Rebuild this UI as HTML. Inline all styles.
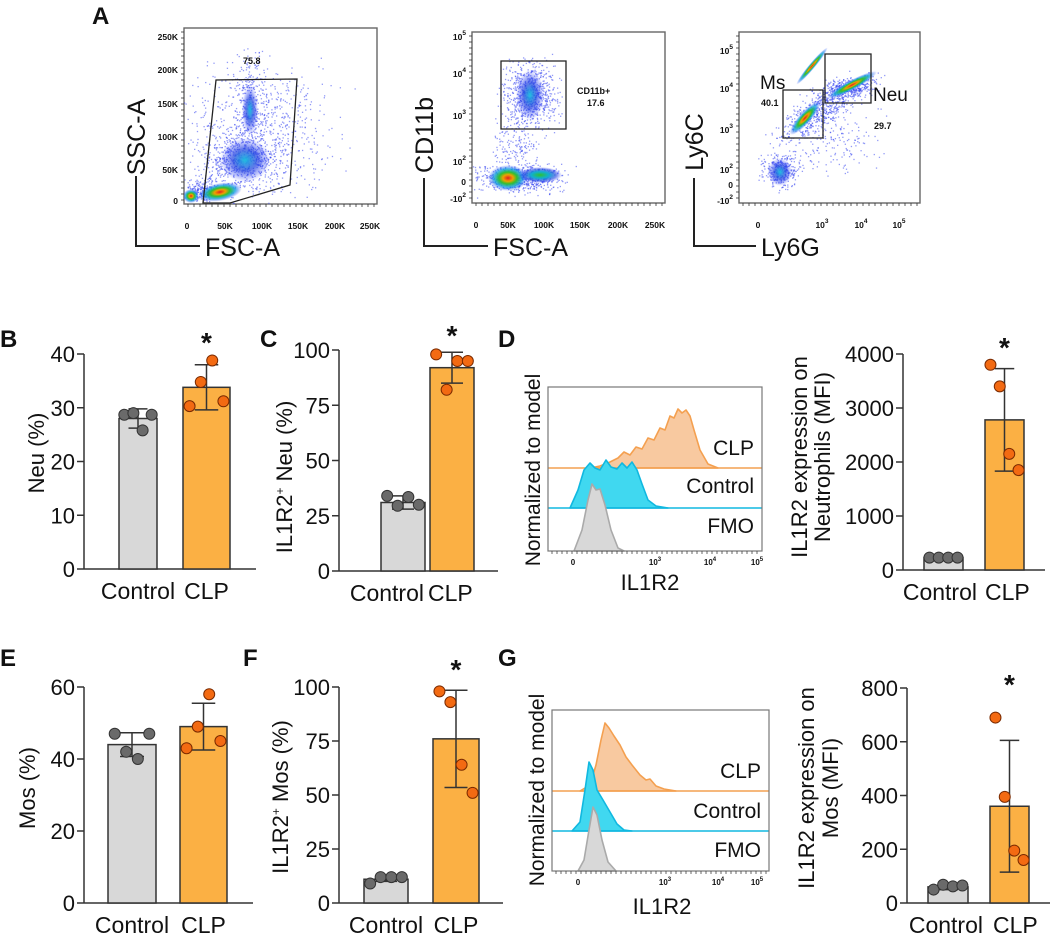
<!DOCTYPE html>
<html><head><meta charset="utf-8">
<style>
html,body{margin:0;padding:0;background:#fff;}
svg{display:block;font-family:"Liberation Sans",Arial,sans-serif;}
</style></head>
<body>
<svg id="fig" width="1059" height="933" viewBox="0 0 1059 933" xmlns="http://www.w3.org/2000/svg">
<defs>
<radialGradient id="dens" cx="50%" cy="50%" r="50%">
<stop offset="0" stop-color="#e02020"/><stop offset="0.25" stop-color="#f0a000"/><stop offset="0.45" stop-color="#30c030"/><stop offset="0.7" stop-color="#10a0e0" stop-opacity="0.8"/><stop offset="1" stop-color="#3040ff" stop-opacity="0"/>
</radialGradient>
<radialGradient id="densB" cx="50%" cy="50%" r="50%">
<stop offset="0" stop-color="#20c0e0"/><stop offset="0.5" stop-color="#2040e0" stop-opacity="0.7"/><stop offset="1" stop-color="#3040ff" stop-opacity="0"/>
</radialGradient>
<radialGradient id="densG" cx="50%" cy="50%" r="50%">
<stop offset="0" stop-color="#30c030"/><stop offset="0.4" stop-color="#10b0d0"/><stop offset="0.75" stop-color="#2040e0" stop-opacity="0.6"/><stop offset="1" stop-color="#3040ff" stop-opacity="0"/>
</radialGradient>
</defs>
<g id="root"></g>
</svg>
<script>
// ---- Bar chart data ----
const groups = ["Control", "CLP"];
const neuMeans = [28, 33.8];
const neuSD = [1.8, 4.2];
const neuCtrlPts = [28.7, 29.0, 25.8, 28.7];
const neuClpPts = [30.3, 34.8, 38.8, 31.2];
const neuTicks = [0, 10, 20, 30, 40];

const il1Means = [31, 92];
const il1SD = [3, 7];
const il1CtrlPts = [34, 29.5, 33.5, 30];
const il1ClpPts = [98, 82, 95, 95];
const il1Ticks = [0, 25, 50, 75, 100];

const mfiNeuMeans = [230, 2780];
const mfiNeuSD = [20, 950];
const mfiNeuCtrlPts = [230, 230, 230, 230];
const mfiNeuClpPts = [3800, 3400, 2150, 1850];
const mfiNeuTicks = [0, 1000, 2000, 3000, 4000];

const mosMeans = [44, 49];
const mosSD = [3.3, 6.5];
const mosCtrlPts = [47, 42, 40, 47];
const mosClpPts = [43, 49, 58, 45];
const mosTicks = [0, 20, 40, 60];

const il1MosMeans = [11, 76];
const il1MosSD = [1, 22.5];
const il1MosCtrlPts = [9, 12, 12, 12];
const il1MosClpPts = [98, 93, 64, 51];
const il1MosTicks = [0, 25, 50, 75, 100];

const mfiMosMeans = [60, 360];
const mfiMosSD = [10, 245];
const mfiMosCtrlPts = [50, 68, 62, 65];
const mfiMosClpPts = [690, 395, 195, 160];
const mfiMosTicks = [0, 200, 400, 600, 800];

const NS = "http://www.w3.org/2000/svg";
const root = document.getElementById("root");
function el(tag, attrs, parent, text) {
  const e = document.createElementNS(NS, tag);
  for (const k in attrs) e.setAttribute(k, attrs[k]);
  if (text !== undefined) e.textContent = text;
  (parent || root).appendChild(e);
  return e;
}
function txt(x, y, s, size, opts, parent) {
  const a = Object.assign({x: x, y: y, "font-size": size, fill: "#111"}, opts || {});
  return el("text", a, parent, s);
}

function barChart(cfg) {
  const g = el("g", {});
  
  
  const yMax = cfg.ticks[cfg.ticks.length - 1];
  const Y = v => cfg.y0 + (cfg.yTop - cfg.y0) * (v / yMax);
  const ya = el("line", {x1: cfg.ax, y1: cfg.yTop, x2: cfg.ax, y2: cfg.y0, stroke: "#333", "stroke-width": 1.5}, g);
  
  
  const xa = el("line", {x1: cfg.ax, y1: cfg.y0, x2: cfg.xEnd, y2: cfg.y0, stroke: "#333", "stroke-width": 1.5}, g);
  
  
  cfg.ticks.forEach(t => {
    el("line", {x1: cfg.ax - 7, y1: Y(t), x2: cfg.ax, y2: Y(t), stroke: "#333", "stroke-width": 1.5}, g);
    const tl = txt(cfg.ax - 9, Y(t) + 8, String(t), 22, {"text-anchor": "end"}, g);
    
    
  });
  const offs = [-0.8, -0.27, 0.27, 0.8];
  [0, 1].forEach(i => {
    const bx = cfg.bars[i];
    const top = Y(cfg.means[i]);
    const b = el("rect", {x: bx[0], y: top, width: bx[1] - bx[0], height: cfg.y0 - top,
      fill: i ? "#fbb044" : "#d8d8d8", stroke: "#333", "stroke-width": 1.5}, g);
    
    
    const cx = (bx[0] + bx[1]) / 2, hw = (bx[1] - bx[0]) / 2;
    const lo = Y(cfg.means[i] - cfg.sd[i]), hi = Y(cfg.means[i] + cfg.sd[i]);
    el("line", {x1: cx, y1: lo, x2: cx, y2: hi, stroke: "#333", "stroke-width": 1.5}, g);
    el("line", {x1: cx - hw * 0.5, y1: lo, x2: cx + hw * 0.5, y2: lo, stroke: "#333", "stroke-width": 1.5}, g);
    el("line", {x1: cx - hw * 0.5, y1: hi, x2: cx + hw * 0.5, y2: hi, stroke: "#333", "stroke-width": 1.5}, g);
    const pts = i ? cfg.clp : cfg.ctrl;
    pts.forEach((v, j) => {
      const p = el("circle", {cx: cx + offs[j] * hw * 0.9, cy: Y(v), r: 5.5,
        fill: i ? "#f36a12" : "#6a6a6a", stroke: i ? "#7a2a00" : "#333", "stroke-width": 1}, g);
      
      
    });
    const lab = cfg.lab ? cfg.lab[i] : [cx, "middle"];
    const xl = txt(lab[0], cfg.y0 + 30, groups[i], 23, {"text-anchor": lab[1]}, g);
    
    
  });
  const st = txt((cfg.bars[1][0] + cfg.bars[1][1]) / 2, cfg.star, "*", 28, {"text-anchor": "middle", "font-weight": "bold"}, g);
  
  
  cfg.titles.forEach(tt => {
    const t = txt(0, 0, "", 22, {"text-anchor": "middle", transform: "translate(" + tt[0] + "," + tt[1] + ") rotate(-90)"}, g);
    t.innerHTML = tt[2];
    
    
  });
}

barChart({name: "chart-b-neu", ax: 84, yTop: 354, y0: 569, xEnd: 256, bars: [[119, 157], [183, 230]],
  ticks: neuTicks, means: neuMeans, sd: neuSD, ctrl: neuCtrlPts, clp: neuClpPts, star: 352,
  titles: [[44, 453, "Neu (%)"]]});
barChart({name: "chart-c-il1r2-neu", ax: 339, yTop: 350, y0: 571, xEnd: 498, bars: [[381, 425], [430, 474]],
  ticks: il1Ticks, means: il1Means, sd: il1SD, ctrl: il1CtrlPts, clp: il1ClpPts, star: 345,
  lab: [[424, "end"], [428, "start"]],
  titles: [[292, 477, 'IL1R2<tspan dy="-8" font-size="12">+</tspan><tspan dy="8"> Neu (%)</tspan>']]});
barChart({name: "chart-d-mfi-neu", ax: 903, yTop: 354, y0: 570, xEnd: 1045, bars: [[924, 963], [985, 1024]],
  ticks: mfiNeuTicks, means: mfiNeuMeans, sd: mfiNeuSD, ctrl: mfiNeuCtrlPts, clp: mfiNeuClpPts, star: 357,
  lab: [[977, "end"], [985, "start"]],
  titles: [[807, 457, "IL1R2 expression on"], [830, 457, "Neutrophils (MFI)"]]});
barChart({name: "chart-e-mos", ax: 84, yTop: 687, y0: 903, xEnd: 253, bars: [[108, 156], [180, 227]],
  ticks: mosTicks, means: mosMeans, sd: mosSD, ctrl: mosCtrlPts, clp: mosClpPts, star: 0,
  titles: [[35, 788, "Mos (%)"]]});
barChart({name: "chart-f-il1r2-mos", ax: 339, yTop: 687, y0: 903, xEnd: 503, bars: [[364, 408], [433, 479]],
  ticks: il1MosTicks, means: il1MosMeans, sd: il1MosSD, ctrl: il1MosCtrlPts, clp: il1MosClpPts, star: 679,
  titles: [[288, 797, 'IL1R2<tspan dy="-8" font-size="12">+</tspan><tspan dy="8"> Mos (%)</tspan>']]});
barChart({name: "chart-g-mfi-mos", ax: 907, yTop: 688, y0: 903, xEnd: 1050, bars: [[928, 968], [990, 1029]],
  ticks: mfiMosTicks, means: mfiMosMeans, sd: mfiMosSD, ctrl: mfiMosCtrlPts, clp: mfiMosClpPts, star: 694,
  lab: [[983, "end"], [993, "start"]],
  titles: [[814, 788, "IL1R2 expression on"], [838, 788, "Mos (MFI)"]]});

[["A", 92, 24], ["B", 0, 347], ["C", 260, 347], ["D", 498, 347], ["E", 0, 666], ["F", 243, 666], ["G", 498, 666]].forEach(p => {
  const t = txt(p[1], p[2], p[0], 24, {"font-weight": "bold"});
  
  
});

function hist(cfg) {
  const g = el("g", {});
  
  
  const [L, T, R, B] = cfg.box;
  cfg.curves.forEach(c => {
    const d = "M" + c.pts.map(p => p.join(",")).join(" L") + " Z";
    const pa = el("path", {d: d, fill: c.fill, stroke: c.stroke, "stroke-width": 1.6, "stroke-linejoin": "round"}, g);
    
    
    if (c.base < B) el("line", {x1: L, y1: c.base, x2: R, y2: c.base, stroke: c.stroke, "stroke-width": 1.4}, g);
  });
  el("rect", {x: L, y: T, width: R - L, height: B - T, fill: "none", stroke: "#777", "stroke-width": 1.2}, g);
  for (let x = L + 4; x < R; x += 5) el("line", {x1: x, y1: B, x2: x, y2: B + 3, stroke: "#444", "stroke-width": 0.8}, g);
  cfg.labels.forEach(l => {
    const t = txt(R - 8, l[1], l[0], 21, {"text-anchor": "end"}, g);
    
    
  });
  cfg.ticks.forEach(tk => {
    const t = txt(tk[0], B + 14, "", 8, {"text-anchor": "middle", "font-weight": "bold"}, g);
    t.innerHTML = tk[1];
  });
  const xt = txt(cfg.xtitle[0], cfg.xtitle[1], "IL1R2", 22, {"text-anchor": "middle"}, g);
  
  
  const yt = txt(0, 0, "Normalized to model", 21, {"text-anchor": "middle", transform: "translate(" + (L - 8) + "," + cfg.ytY + ") rotate(-90)"}, g);
  
  
}
const tkl = (x) => [[x[0], "0"], [x[1], '10<tspan dy="-4" font-size="6">3</tspan>'], [x[2], '10<tspan dy="-4" font-size="6">4</tspan>'], [x[3], '10<tspan dy="-4" font-size="6">5</tspan>']];
hist({name: "histogram-d", box: [548, 387, 762, 551],
  curves: [
    {label: "CLP", base: 468, fill: "#f8c9a0", stroke: "#f4a050",
     pts: [[590,468],[600,466],[610,462],[618,458],[624,452],[630,455],[636,447],[642,449],[648,438],[654,440],[660,428],[665,430],[670,416],[674,418],[678,409],[682,413],[686,410],[690,416],[694,430],[700,450],[708,464],[718,468]]},
    {label: "Control", base: 508, fill: "#40d8f0", stroke: "#10b8e0",
     pts: [[570,508],[578,490],[584,470],[590,463],[595,468],[600,470],[606,460],[611,467],[617,469],[622,463],[627,468],[632,462],[637,470],[642,484],[648,500],[656,506],[668,508]]},
    {label: "FMO", base: 551, fill: "#d8d8d8", stroke: "#aaa",
     pts: [[574,551],[582,530],[588,500],[592,484],[596,490],[600,489],[605,505],[611,530],[618,548],[624,551]]}
  ],
  labels: [["CLP", 455], ["Control", 493], ["FMO", 533]],
  ticks: tkl([573, 655, 710, 757]), xtitle: [650, 590], ytY: 470});
hist({name: "histogram-g", box: [552, 710, 769, 871],
  curves: [
    {label: "CLP", base: 791, fill: "#f8c9a0", stroke: "#f4a050",
     pts: [[580,791],[590,785],[596,765],[601,740],[605,723],[609,728],[614,736],[620,745],[626,757],[632,765],[640,775],[646,780],[650,779],[656,786],[664,789],[676,791]]},
    {label: "Control", base: 831, fill: "#40d8f0", stroke: "#10b8e0",
     pts: [[572,831],[580,822],[585,790],[589,762],[593,770],[597,790],[603,800],[610,812],[617,824],[624,830],[632,831]]},
    {label: "FMO", base: 871, fill: "#d8d8d8", stroke: "#aaa",
     pts: [[578,871],[584,860],[589,830],[593,807],[597,815],[602,840],[608,862],[616,871]]}
  ],
  labels: [["CLP", 778], ["Control", 818], ["FMO", 857]],
  ticks: tkl([578, 665, 718, 757]), xtitle: [662, 914], ytY: 790});

let seed = 7;
function rnd() { seed = (seed * 16807) % 2147483647; return seed / 2147483647; }
function gauss() { return (rnd() + rnd() + rnd() - 1.5) * 1.15; }
function flow(cfg) {
  const g = el("g", {});
  
  
  const [L, T, R, B] = cfg.box;
  el("rect", {x: L, y: T, width: R - L, height: B - T, fill: "#fff", stroke: "#666", "stroke-width": 1.4}, g);
  const cl = el("clipPath", {id: "clip-" + cfg.name}, g);
  el("rect", {x: L, y: T, width: R - L, height: B - T}, cl);
  const inner = el("g", {"clip-path": "url(#clip-" + cfg.name + ")"}, g);
  cfg.clouds.forEach(c => {
    for (let i = 0; i < c.n; i++) {
      const u = gauss(), v = gauss();
      const x = c.x + u * c.sx + v * (c.rot || 0) * c.sy, y = c.y + v * c.sy;
      el("rect", {x: x, y: y, width: 1.3, height: 1.3, fill: "#3a48f0", opacity: 0.55}, inner);
    }
  });
  cfg.blobs.forEach(b => el("ellipse", {cx: b[0], cy: b[1], rx: b[2], ry: b[3], fill: "url(#" + b[4] + ")", transform: "rotate(" + (b[5] || 0) + " " + b[0] + " " + b[1] + ")"}, inner));
  cfg.gates.forEach(p => {
    const ga = el("polygon", {points: p.map(q => q.join(",")).join(" "), fill: "none", stroke: "#222", "stroke-width": 1.3}, g);
    
    
  });
  for (let x = L + 4; x < R; x += 6) el("line", {x1: x, y1: B, x2: x, y2: B + 3, stroke: "#333", "stroke-width": 0.8}, g);
  for (let y = T + 4; y < B; y += 6) el("line", {x1: L - 3, y1: y, x2: L, y2: y, stroke: "#333", "stroke-width": 0.8}, g);
  cfg.yt.forEach(t => { const e = txt(L - 6, t[0] + 3, "", 8.5, {"text-anchor": "end", "font-weight": "bold"}, g); e.innerHTML = t[1]; });
  cfg.xt.forEach(t => { const e = txt(t[0], B + 25, "", 8.5, {"text-anchor": "middle", "font-weight": "bold"}, g); e.innerHTML = t[1]; });
  cfg.notes.forEach(n => { const e = txt(n[0], n[1], n[2], n[3], {"font-weight": n[4] || "normal"}, g);   });
  const [lx, lyTop, ly, lxEnd] = cfg.lshape;
  el("polyline", {points: lx + "," + lyTop + " " + lx + "," + ly + " " + lxEnd + "," + ly, fill: "none", stroke: "#222", "stroke-width": 2}, g);
  const yl = txt(0, 0, cfg.ylab, 25, {"text-anchor": "middle", transform: "translate(" + (lx + 9) + "," + cfg.ylabY + ") rotate(-90)"}, g);
  
  
  const xl = txt(lxEnd + 5, ly + 10, cfg.xlab, 25, {}, g);
  
  
}
const p10 = n => '10<tspan dy="-5" font-size="6.5">' + n + '</tspan>';
flow({name: "flow-fsc-ssc", box: [184, 28, 377, 204],
  clouds: [{x: 260, y: 130, sx: 60, sy: 55, n: 700}, {x: 240, y: 160, sx: 35, sy: 25, n: 600}, {x: 250, y: 100, sx: 15, sy: 40, n: 250}, {x: 200, y: 190, sx: 12, sy: 10, n: 200}],
  blobs: [[220, 192, 22, 9, "dens", -10], [191, 196, 8, 7, "dens", 0], [245, 160, 25, 22, "densB", 0], [250, 110, 8, 25, "densB", 0]],
  gates: [[[203, 203], [216, 80], [297, 79], [290, 185], [230, 203]]],
  yt: [[37, "250K"], [70, "200K"], [104, "150K"], [137, "100K"], [170, "50K"], [201, "0"]],
  xt: [[187, "0"], [225, "50K"], [262, "100K"], [298, "150K"], [335, "200K"], [370, "250K"]],
  notes: [[243, 64, "75.8", 9, "bold"]],
  lshape: [136, 176, 246, 200], ylab: "SSC-A", ylabY: 137, xlab: "FSC-A"});
flow({name: "flow-fsc-cd11b", box: [472, 32, 665, 203],
  clouds: [{x: 530, y: 95, sx: 22, sy: 28, n: 700}, {x: 520, y: 178, sx: 35, sy: 12, n: 600}, {x: 515, y: 145, sx: 20, sy: 20, n: 150}],
  blobs: [[508, 178, 20, 13, "dens", 0], [540, 175, 22, 8, "densG", 0], [530, 95, 14, 25, "densB", 0]],
  gates: [[[501, 61], [566, 61], [566, 129], [501, 129]]],
  yt: [[37, p10(5)], [74, p10(4)], [116, p10(3)], [162, p10(2)], [182, "0"], [199, "-" + p10(2)]],
  xt: [[476, "0"], [508, "50K"], [544, "100K"], [580, "150K"], [618, "200K"], [655, "250K"]],
  notes: [[577, 94, "CD11b+", 9, "bold"], [587, 106, "17.6", 9, "bold"]],
  lshape: [424, 178, 246, 488], ylab: "CD11b", ylabY: 135, xlab: "FSC-A"});
flow({name: "flow-ly6g-ly6c", box: [739, 32, 920, 203],
  clouds: [{x: 820, y: 110, sx: 22, sy: 25, rot: -0.9, n: 500}, {x: 780, y: 170, sx: 15, sy: 15, n: 300}, {x: 850, y: 88, sx: 22, sy: 10, rot: -1, n: 400}, {x: 830, y: 140, sx: 40, sy: 30, n: 200}],
  blobs: [[805, 118, 22, 6, "dens", -48], [852, 85, 28, 5, "dens", -28], [812, 66, 24, 3, "dens", -50], [780, 172, 12, 14, "densB", 0]],
  gates: [[[783, 90], [823, 90], [823, 138], [783, 138]], [[825, 54], [871, 54], [871, 103], [825, 103]]],
  yt: [[51, p10(5)], [89, p10(4)], [130, p10(3)], [170, p10(2)], [185, "0"], [201, "-" + p10(2)]],
  xt: [[758, "0"], [822, p10(3)], [861, p10(4)], [899, p10(5)]],
  notes: [[760, 89, "Ms", 19], [761, 106, "40.1", 9, "bold"], [873, 101, "Neu", 19], [874, 129, "29.7", 9, "bold"]],
  lshape: [694, 178, 246, 756], ylab: "Ly6C", ylabY: 142, xlab: "Ly6G"});
</script>
</body></html>
